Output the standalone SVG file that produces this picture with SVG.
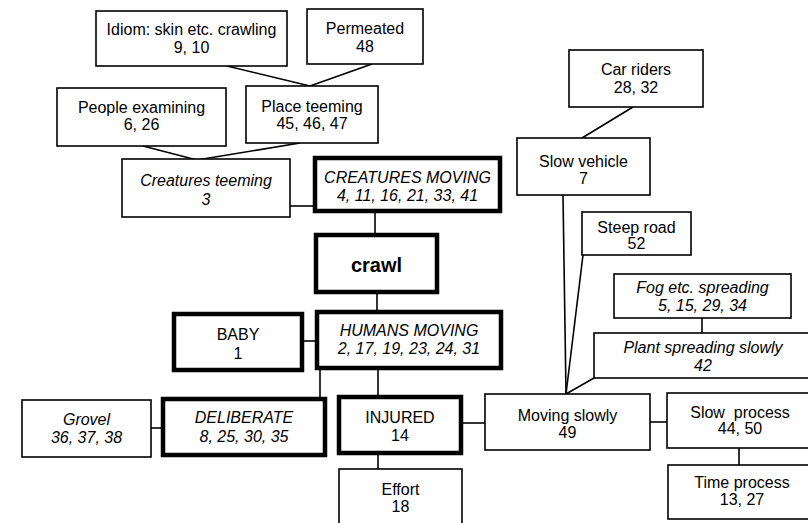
<svg xmlns="http://www.w3.org/2000/svg" width="808" height="523" viewBox="0 0 808 523">
<style>
rect{fill:#fff;stroke:#000;stroke-width:1.6}
rect.thick{stroke-width:4.5}
text{font-family:"Liberation Sans",Arial,sans-serif;font-size:16px;text-anchor:middle;fill:#000}
text.i{font-style:italic}
text.b{font-weight:bold;font-size:20px}
#connectors line{stroke:#000;stroke-width:1.6}
</style>
<rect x="0" y="0" width="808" height="523" style="fill:#fff;stroke:none"/>
<g id="connectors">
<line x1="227" y1="66" x2="310" y2="86"/>
<line x1="372" y1="64" x2="310" y2="86"/>
<line x1="143" y1="146" x2="197" y2="160"/>
<line x1="300" y1="143" x2="197" y2="160"/>
<line x1="290" y1="206" x2="315" y2="206"/>
<line x1="375" y1="211" x2="375" y2="235"/>
<line x1="377" y1="292" x2="377" y2="312"/>
<line x1="302" y1="341" x2="317" y2="341"/>
<line x1="320" y1="368" x2="320" y2="399"/>
<line x1="378" y1="368" x2="378" y2="397"/>
<line x1="151" y1="428" x2="163" y2="428"/>
<line x1="461" y1="423" x2="485" y2="423"/>
<line x1="378" y1="453" x2="378" y2="469"/>
<line x1="650" y1="422" x2="667" y2="422"/>
<line x1="739" y1="448" x2="739" y2="465"/>
<line x1="633" y1="107" x2="582" y2="138"/>
<line x1="563" y1="195" x2="566" y2="394"/>
<line x1="583" y1="255" x2="566" y2="394"/>
<line x1="594" y1="378" x2="566" y2="394"/>
<line x1="702" y1="318" x2="702" y2="333"/>
</g>
<g id="idiom"><rect x="96" y="11" width="191" height="55"/><text x="191.5" y="35">Idiom: skin etc. crawling</text><text x="191.5" y="53">9, 10</text></g>
<g id="permeated"><rect x="307" y="9" width="116" height="55"/><text x="365" y="34">Permeated</text><text x="365" y="52">48</text></g>
<g id="people-examining"><rect x="57" y="88" width="169" height="58"/><text x="141.5" y="113">People examining</text><text x="141.5" y="130">6, 26</text></g>
<g id="place-teeming"><rect x="246" y="86" width="132" height="57"/><text x="312" y="112">Place teeming</text><text x="312" y="129">45, 46, 47</text></g>
<g id="creatures-teeming"><rect x="122" y="159" width="168" height="58"/><text class="i" x="206" y="186">Creatures teeming</text><text class="i" x="206" y="205">3</text></g>
<g id="creatures-moving"><rect class="thick" x="315" y="158" width="185" height="53"/><text class="i" x="407.5" y="183">CREATURES MOVING</text><text class="i" x="407.5" y="201">4, 11, 16, 21, 33, 41</text></g>
<g id="crawl"><rect class="thick" x="316" y="235" width="121" height="57"/><text class="b" x="376.5" y="272">crawl</text></g>
<g id="baby"><rect class="thick" x="174" y="314" width="128" height="56"/><text x="238" y="340">BABY</text><text x="238" y="359">1</text></g>
<g id="humans-moving"><rect class="thick" x="317" y="312" width="184" height="56"/><text class="i" x="409" y="336">HUMANS MOVING</text><text class="i" x="409" y="354">2, 17, 19, 23, 24, 31</text></g>
<g id="grovel"><rect x="22" y="400" width="129" height="57"/><text class="i" x="86.5" y="425">Grovel</text><text class="i" x="86.5" y="443">36, 37, 38</text></g>
<g id="deliberate"><rect class="thick" x="163" y="399" width="162" height="56"/><text class="i" x="244" y="423">DELIBERATE</text><text class="i" x="244" y="442">8, 25, 30, 35</text></g>
<g id="injured"><rect class="thick" x="339" y="397" width="122" height="56"/><text x="400" y="423">INJURED</text><text x="400" y="441">14</text></g>
<g id="effort"><rect x="339" y="469" width="123" height="62"/><text x="400.5" y="495">Effort</text><text x="400.5" y="512">18</text></g>
<g id="moving-slowly"><rect x="485" y="394" width="165" height="56"/><text x="567.5" y="421">Moving slowly</text><text x="567.5" y="438">49</text></g>
<g id="slow-process"><rect x="667" y="393" width="150" height="55"/><text x="740" y="418" xml:space="preserve">Slow  process</text><text x="740" y="434">44, 50</text></g>
<g id="time-process"><rect x="668" y="465" width="150" height="54"/><text x="742" y="488">Time process</text><text x="742" y="505">13, 27</text></g>
<g id="car-riders"><rect x="569" y="50" width="134" height="57"/><text x="636" y="75">Car riders</text><text x="636" y="93">28, 32</text></g>
<g id="slow-vehicle"><rect x="517" y="138" width="133" height="57"/><text x="583.5" y="167">Slow vehicle</text><text x="583.5" y="184">7</text></g>
<g id="steep-road"><rect x="582" y="212" width="109" height="43"/><text x="636.5" y="233">Steep road</text><text x="636.5" y="249">52</text></g>
<g id="fog-spreading"><rect x="614" y="274" width="177" height="44"/><text class="i" x="702.5" y="293">Fog etc. spreading</text><text class="i" x="702.5" y="311">5, 15, 29, 34</text></g>
<g id="plant-spreading"><rect x="594" y="333" width="220" height="45"/><text class="i" x="703" y="353">Plant spreading slowly</text><text class="i" x="703" y="371">42</text></g>
</svg>
